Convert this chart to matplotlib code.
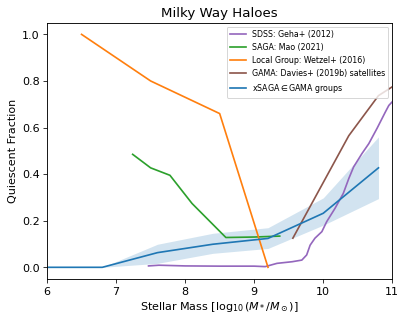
import matplotlib
matplotlib.use("Agg")
import matplotlib.pyplot as plt
import numpy as np

# SDSS: Geha+ (2012)
sdss_x = [7.47, 7.62, 8.0, 8.5, 9.0, 9.16, 9.33, 9.55, 9.69, 9.76, 9.81, 9.88, 9.98,
          10.05, 10.17, 10.29, 10.37, 10.44, 10.56, 10.66, 10.78, 10.90, 10.95, 11.02]
sdss_y = [0.006, 0.009, 0.006, 0.005, 0.005, 0.003, 0.017, 0.024, 0.031, 0.053, 0.095,
          0.125, 0.153, 0.196, 0.253, 0.317, 0.381, 0.431, 0.488, 0.531, 0.597, 0.667,
          0.695, 0.717]

# SAGA: Mao (2021)
saga_x = [7.24, 7.50, 7.78, 8.10, 8.59, 9.0, 9.37]
saga_y = [0.485, 0.427, 0.395, 0.274, 0.128, 0.130, 0.134]

# Local Group: Wetzel+ (2016)
lg_x = [6.5, 7.5, 8.5, 9.2]
lg_y = [1.0, 0.80, 0.66, 0.0]

# GAMA: Davies+ (2019b) satellites
gama_x = [9.56, 10.37, 10.80, 11.0]
gama_y = [0.125, 0.565, 0.737, 0.775]

# xSAGA in GAMA groups
xs_x = [6.0, 6.8, 7.6, 8.4, 9.2, 10.0, 10.8]
xs_y = [0.0, 0.0, 0.063, 0.099, 0.124, 0.232, 0.427]
xs_lo = [0.0, 0.0, 0.017, 0.060, 0.081, 0.181, 0.295]
xs_hi = [0.0, 0.0, 0.099, 0.146, 0.170, 0.298, 0.560]

s = 1.16
plt.rcParams.update({
    'font.size': 10 * s,
    'axes.titlesize': 12 * s,
    'xtick.major.size': 3.5 * s,
    'ytick.major.size': 3.5 * s,
    'lines.linewidth': 1.5 * s,
    'axes.linewidth': 0.8 * s,
})

dpi = 69.4
fig = plt.figure(figsize=(407.3 / dpi, 322.3 / dpi), dpi=dpi)
ax = fig.add_axes([47 / 407, 43 / 322, 345 / 407, 256 / 322])

ax.plot(sdss_x, sdss_y, color='C4', label='SDSS: Geha+ (2012)')
ax.plot(saga_x, saga_y, color='C2', label='SAGA: Mao (2021)')
ax.plot(lg_x, lg_y, color='C1', label='Local Group: Wetzel+ (2016)')
ax.plot(gama_x, gama_y, color='C5', label='GAMA: Davies+ (2019b) satellites')
ax.plot(xs_x, xs_y, color='C0', label=r'xSAGA$\in$GAMA groups')
ax.fill_between(xs_x, xs_lo, xs_hi, color='C0', alpha=0.2, lw=0)

ax.set_xlim(6, 11)
ax.set_ylim(-0.05, 1.05)
ax.set_xlabel(r'Stellar Mass [$\log_{10}(M_*/M_\odot)$]')
ax.set_ylabel('Quiescent Fraction')
ax.set_title('Milky Way Haloes')
ax.legend(loc='upper right', fontsize=8.2)

fig.savefig('out.png', dpi=dpi)
